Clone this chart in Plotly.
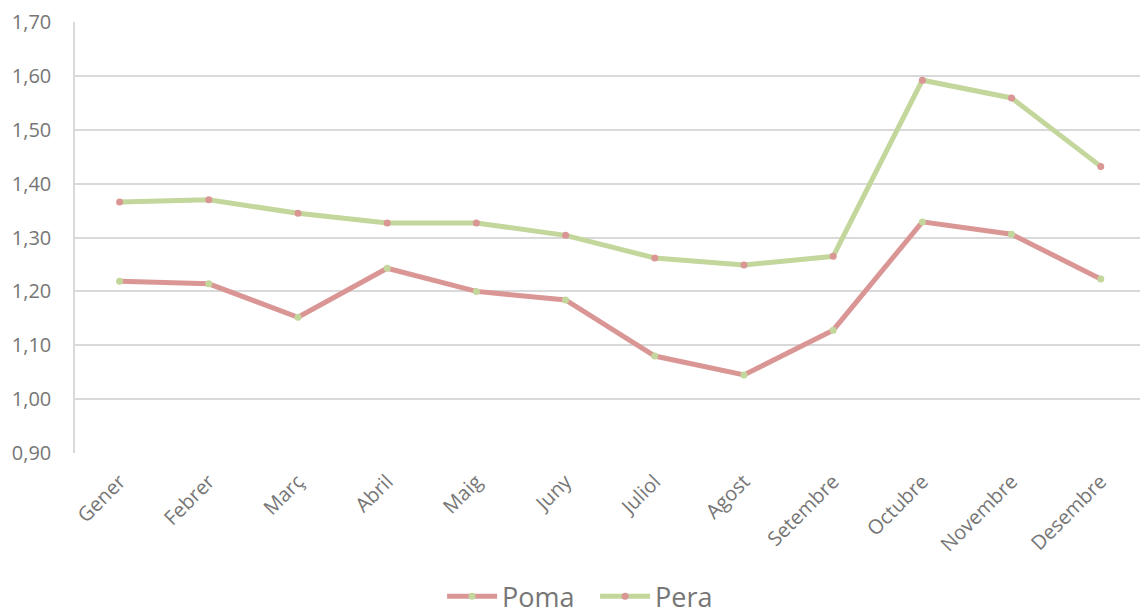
import plotly.graph_objects as go

months = ["Gener", "Febrer", "Març", "Abril", "Maig", "Juny", "Juliol",
          "Agost", "Setembre", "Octubre", "Novembre", "Desembre"]
poma = [1.219, 1.214, 1.152, 1.243, 1.200, 1.184, 1.080, 1.045, 1.128, 1.329, 1.306, 1.223]
pera = [1.366, 1.370, 1.345, 1.327, 1.327, 1.304, 1.262, 1.249, 1.265, 1.592, 1.559, 1.432]

POMA_C = "#D99694"
PERA_C = "#C3D69B"
TXT = "#767676"
GRID = "#D9D9D9"

fig = go.Figure()
fig.add_trace(go.Scatter(x=months, y=poma, name="Poma", mode="lines+markers",
                         line=dict(color=POMA_C, width=5),
                         marker=dict(color=PERA_C, size=7)))
fig.add_trace(go.Scatter(x=months, y=pera, name="Pera", mode="lines+markers",
                         line=dict(color=PERA_C, width=5),
                         marker=dict(color=POMA_C, size=7)))

fig.update_layout(
    width=1140, height=614,
    margin=dict(l=75, r=0, t=22, b=161),
    paper_bgcolor="white", plot_bgcolor="white",
    separators=", ",
    font=dict(family="Open Sans", color=TXT, size=20),
    showlegend=True,
    legend=dict(orientation="h", xref="container", yref="container",
                x=0.522, xanchor="center", y=0.028, yanchor="middle",
                font=dict(size=27, color=TXT), traceorder="normal",
                itemwidth=50, entrywidth=88, entrywidthmode="pixels"),
)
fig.update_xaxes(type="category", range=[-0.5, 11.44], showgrid=False,
                 showline=False, ticks="", tickangle=-45, automargin=False,
                 ticklabelstandoff=12,
                 tickfont=dict(size=20, color=TXT))
fig.update_yaxes(range=[0.9, 1.7], dtick=0.1, tick0=0.9, tickformat=".2f",
                 showgrid=True, gridcolor=GRID, gridwidth=1.5,
                 showline=True, linecolor=GRID, linewidth=1.5, automargin=False,
                 zeroline=False, ticks="", ticklabelstandoff=18,
                 tickfont=dict(size=20, color=TXT))

fig.write_html("out.html", config={"displayModeBar": False},
               post_script="document.body.style.margin='0';")
